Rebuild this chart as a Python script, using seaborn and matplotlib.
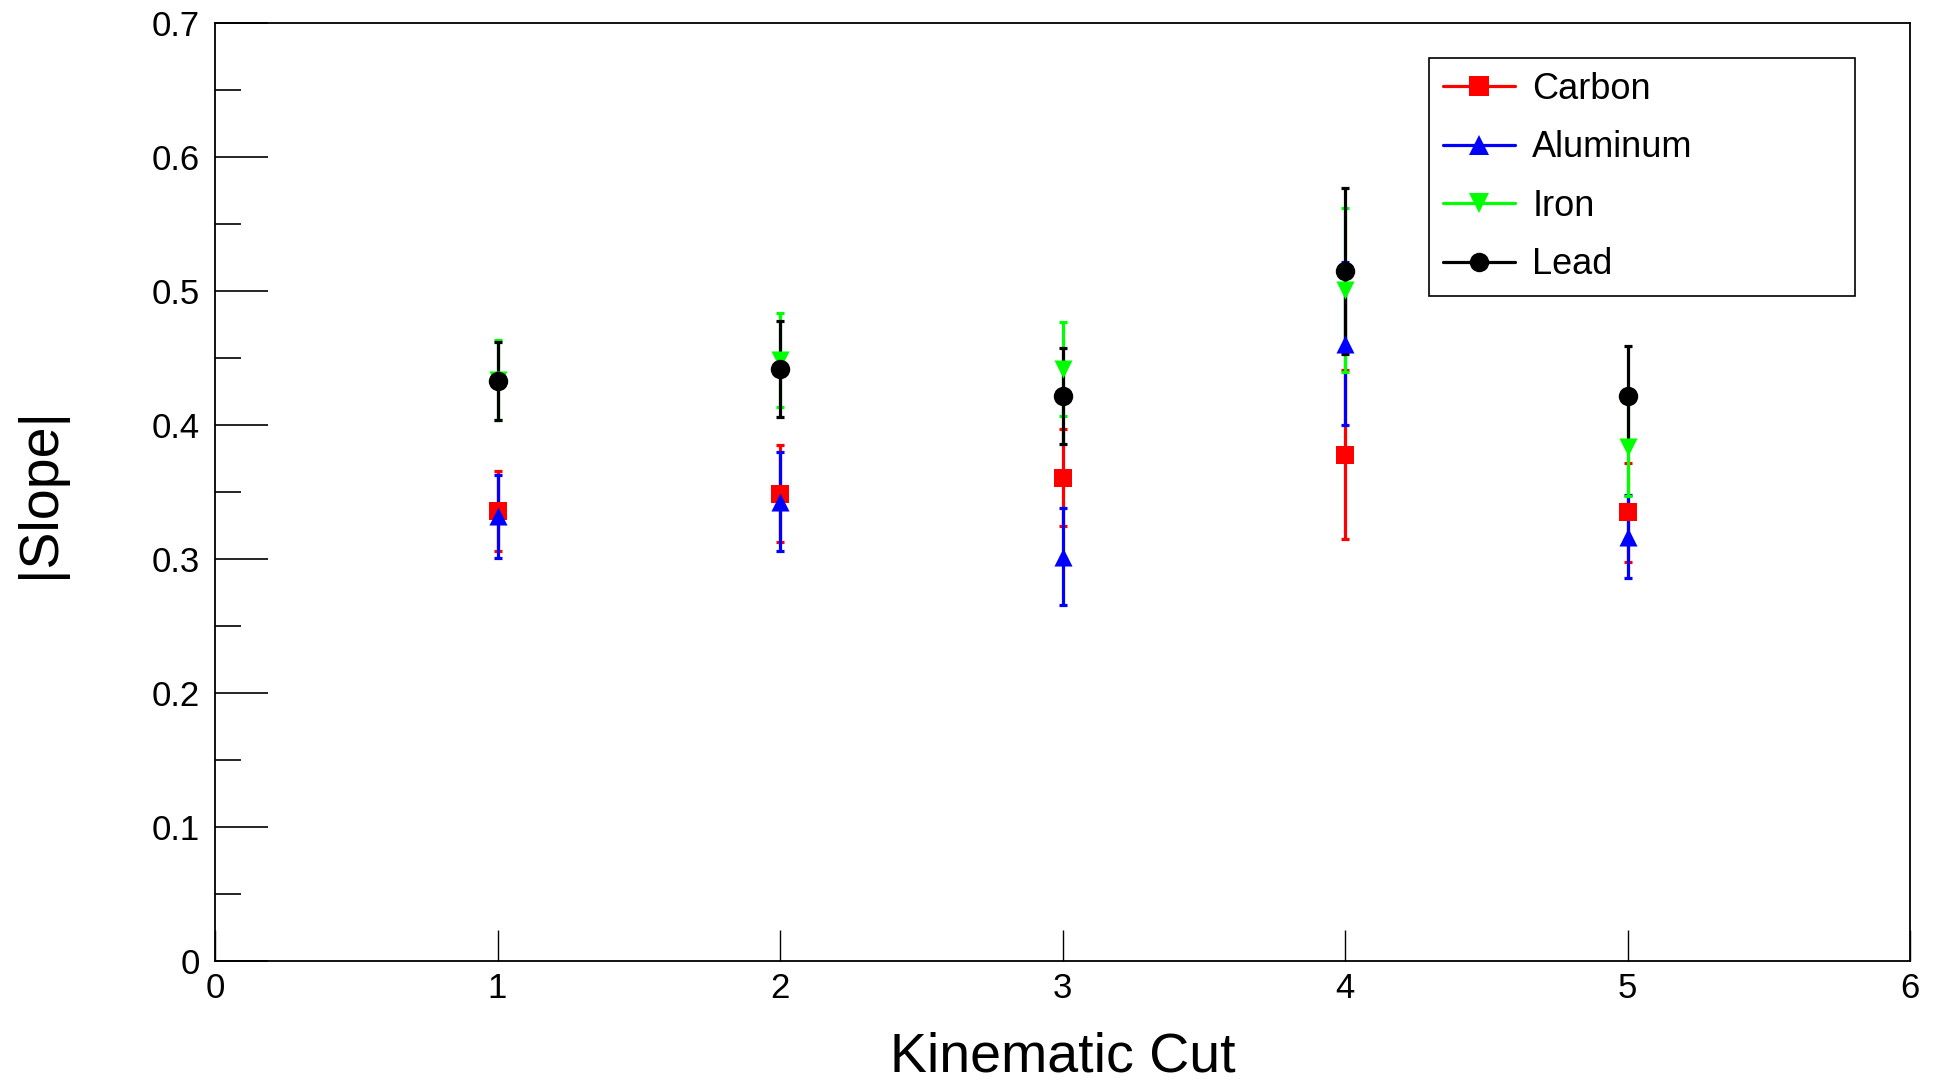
import matplotlib
matplotlib.use("Agg")
import matplotlib.pyplot as plt
from matplotlib.lines import Line2D
from matplotlib.ticker import MultipleLocator
import seaborn as sns
import pandas as pd

cuts = [1, 2, 3, 4, 5]
carbon = [0.336, 0.349, 0.361, 0.378, 0.335]
carbon_err = [0.030, 0.036, 0.036, 0.063, 0.037]
aluminum = [0.332, 0.343, 0.302, 0.461, 0.317]
aluminum_err = [0.031, 0.037, 0.036, 0.061, 0.031]
iron = [0.434, 0.449, 0.442, 0.501, 0.384]
iron_err = [0.030, 0.035, 0.035, 0.061, 0.037]
lead = [0.433, 0.442, 0.422, 0.515, 0.422]
lead_err = [0.029, 0.036, 0.036, 0.062, 0.037]

names = ["Carbon", "Aluminum", "Iron", "Lead"]
values = [carbon, aluminum, iron, lead]
errors = [carbon_err, aluminum_err, iron_err, lead_err]
colors = ["#ff0000", "#0000ff", "#00ff00", "#000000"]
markers = ["s", "^", "v", "o"]
msizes = [13, 13, 13, 14]

rows = []
for n, v, e in zip(names, values, errors):
    for c, y, err in zip(cuts, v, e):
        rows.append({"cut": c, "slope": y, "err": err, "target": n})
df = pd.DataFrame(rows)

sns.set_style("white")
plt.rcParams["font.family"] = ["Liberation Sans", "DejaVu Sans"]
plt.rcParams["text.color"] = "black"
plt.rcParams["axes.labelcolor"] = "black"
plt.rcParams["xtick.color"] = "black"
plt.rcParams["ytick.color"] = "black"

fig = plt.figure(figsize=(19.35, 10.85), dpi=100)
ax = fig.add_axes([215 / 1935, 1 - 961.3 / 1085, 1695 / 1935, 937.9 / 1085])

for n, col, mk, ms in zip(names, colors, markers, msizes):
    sub = df[df["target"] == n]
    ax.errorbar(sub["cut"], sub["slope"], yerr=sub["err"], fmt="none",
                ecolor=col, elinewidth=2.3, capsize=3, capthick=2.3, zorder=2)
    sns.scatterplot(data=sub, x="cut", y="slope", color=col, marker=mk,
                    s=ms ** 2, edgecolor=col, linewidth=0, ax=ax, zorder=3,
                    legend=False)

ax.set_xlim(0, 6)
ax.set_ylim(0, 0.7)
ax.xaxis.set_major_locator(MultipleLocator(1))
ax.yaxis.set_minor_locator(MultipleLocator(0.05))
ax.set_yticks([0, 0.1, 0.2, 0.3, 0.4, 0.5, 0.6, 0.7])
ax.set_yticklabels(["0", "0.1", "0.2", "0.3", "0.4", "0.5", "0.6", "0.7"])
ax.tick_params(axis="y", which="major", direction="in", length=38, width=1.2,
               labelsize=25, pad=11, left=True, right=False)
ax.tick_params(axis="y", which="minor", direction="in", length=19, width=1.2,
               left=True, right=False)
ax.tick_params(axis="x", which="major", direction="in", length=22, width=1.0,
               labelsize=25, pad=8, bottom=True, top=False)
for s in ax.spines.values():
    s.set_color("black")
    s.set_linewidth(1.3)

ax.set_xlabel("Kinematic Cut", fontsize=40)
ax.set_ylabel("|Slope|", fontsize=40)
ax.xaxis.set_label_coords(0.5, -0.075)
ax.yaxis.set_label_coords(-0.088, 0.5)

handles = [Line2D([0], [0], color=c, marker=m, markersize=ms, lw=2.3,
                  markeredgewidth=0)
           for c, m, ms in zip(colors, markers, [14, 14, 14, 14])]
leg = ax.legend(handles, names, loc="upper left",
                bbox_to_anchor=(0.7162, 0.7136, 0.2514, 0.2494), mode="expand",
                fontsize=26, frameon=True,
                fancybox=False, edgecolor="black", framealpha=1,
                handlelength=2.0, handletextpad=0.48, labelspacing=0.65,
                borderpad=0.38, borderaxespad=0)
leg.get_frame().set_linewidth(1.2)

fig.savefig("out.png", dpi=100)
